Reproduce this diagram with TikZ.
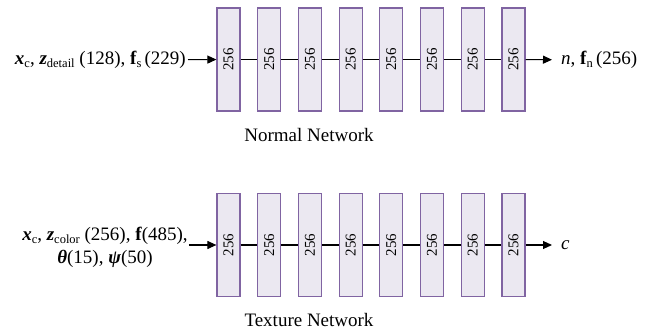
\documentclass[tikz,border=0pt]{standalone}
\usepackage{fontspec}
\setmainfont{Liberation Serif}
\usetikzlibrary{arrows.meta}
\newcommand\lsub[1]{\raisebox{-0.35ex}{\fontsize{12.5}{12.5}\selectfont #1}}
\newcommand\bi[1]{\textbf{\textit{#1}}}
\definecolor{boxfill}{RGB}{235,232,241}
\definecolor{boxdraw}{RGB}{128,100,162}
\begin{document}
\begin{tikzpicture}[x=1pt,y=-1pt,
  layer/.style={draw=boxdraw, fill=boxfill, line width=1.2pt, minimum width=23pt, minimum height=103pt, inner sep=0pt, font=\fontsize{15}{15}\selectfont},
  conn/.style={line width=1.1pt},
  arr/.style={line width=1.1pt,-{Triangle[length=9pt,width=8pt]}},
  lbl/.style={font=\fontsize{19}{23}\selectfont, inner sep=0pt},
]
\useasboundingbox (0,0) rectangle (649,331);
\foreach \i in {1,...,8} {
  \node[layer] (a\i) at ({228.5+(\i-1)*40.71},59.5) {\rotatebox{90}{256}};
  \node[layer] (b\i) at ({228.5+(\i-1)*40.71},245) {\rotatebox{90}{256}};
}
\foreach \i/\j in {1/2,2/3,3/4,4/5,5/6,6/7,7/8} {
  \draw[conn] (a\i) -- (a\j);
  \draw[conn] (b\i) -- (b\j);
}
\node[lbl, anchor=east] (ina) at (186,60) {\bi{x}\lsub{c}, \bi{z}\lsub{detail} (128), \textbf{f}\lsub{s}\,(229)};
\draw[arr, shorten <=2pt] (ina) -- (a1);
\node[lbl, anchor=west] (outa) at (561,60) {\textit{n}, \textbf{f}\lsub{n}\,(256)};
\draw[arr, shorten >=9pt] (a8) -- (outa);
\node[lbl, align=center] (inb) at (105,247.5) {\bi{x}\lsub{c}, \bi{z}\lsub{color} (256), \textbf{f}(485),\\\bi{θ}(15), \bi{ψ}(50)};
\draw[arr, shorten <=1pt] (inb.east |- b1) -- (b1);
\node[lbl, anchor=west] (outb) at (561,245) {\textit{c}};
\draw[arr, shorten >=9pt] (b8) -- (outb);
\node[lbl, anchor=base] (capa) at (309,142) {Normal Network};
\node[lbl, anchor=base] (capb) at (309,327) {Texture Network};
\end{tikzpicture}
\end{document}
